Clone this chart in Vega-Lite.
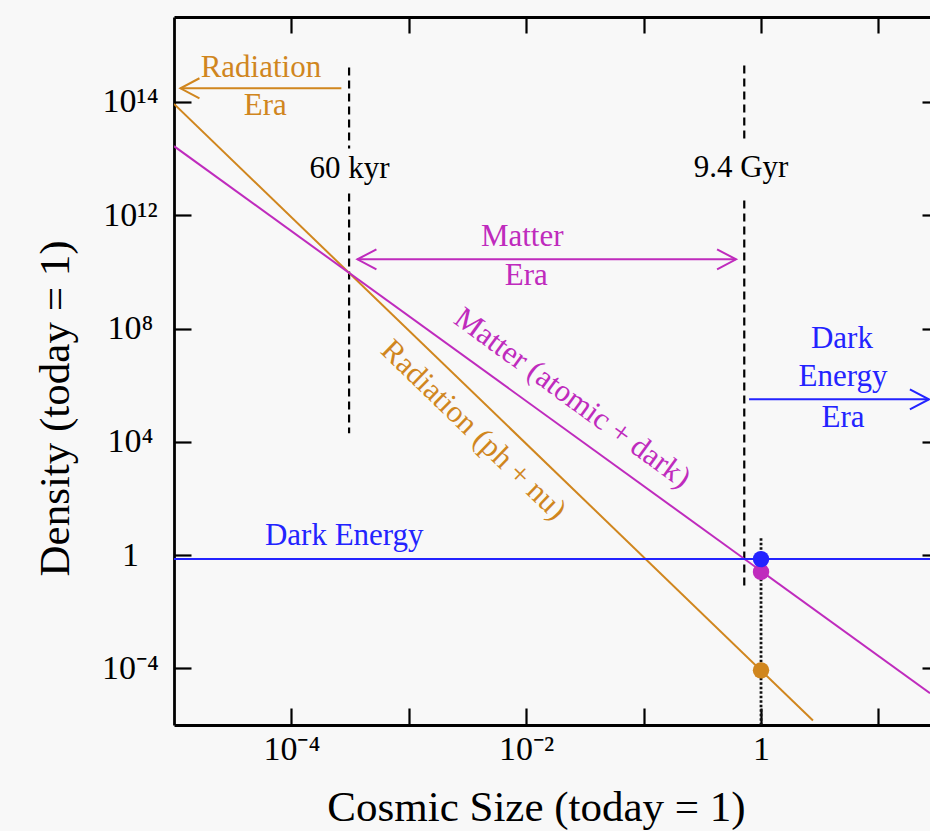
{
  "$schema": "https://vega.github.io/schema/vega-lite/v6.json",
  "width": 756,
  "height": 708,
  "autosize": {"type": "none"},
  "padding": {"left": 174, "top": 17, "right": 0, "bottom": 106},
  "background": "#f8f8f8",
  "config": {
    "view": {"stroke": null},
    "font": "Liberation Serif",
    "text": {"font": "Liberation Serif"}
  },
  "datasets": {
    "curves": [
      {"c": "Radiation", "a": 1e-5, "rho": 8.5e15},
      {"c": "Radiation", "a": 2.77, "rho": 1.44e-6},
      {"c": "Matter", "a": 1e-5, "rho": 2.75e14},
      {"c": "Matter", "a": 27.5, "rho": 1.32e-5},
      {"c": "Dark Energy", "a": 1e-5, "rho": 0.72},
      {"c": "Dark Energy", "a": 27.5, "rho": 0.72}
    ],
    "markers": [
      {"kind": "dash", "a": 3.1e-4, "rho": 1.66e17, "rho2": 2.29e14},
      {"kind": "dash", "a": 3.1e-4, "rho": 5.89e12, "rho2": 2.0e4},
      {"kind": "dash", "a": 0.72, "rho": 1.95e17, "rho2": 4.47e14},
      {"kind": "dash", "a": 0.72, "rho": 3.31e12, "rho2": 0.0562}
    ],
    "today": [
      {"kind": "dot", "a": 1, "rho": 3.9, "rho2": 1e-6}
    ],
    "shafts": [
      {"c": "Radiation", "a": 2.665e-4, "a2": 1.135e-5, "rho": 3.03e16},
      {"c": "Matter", "a": 3.65e-4, "a2": 0.613, "rho": 2.77e10},
      {"c": "Dark Energy", "a": 0.791, "a2": 26.9, "rho": 3.155e5}
    ],
    "heads": [
      {"c": "Radiation", "dir": "left", "a": 1.135e-5, "rho": 3.03e16},
      {"c": "Matter", "dir": "left", "a": 3.65e-4, "rho": 2.77e10},
      {"c": "Matter", "dir": "right", "a": 0.613, "rho": 2.77e10},
      {"c": "Dark Energy", "dir": "right", "a": 26.9, "rho": 3.155e5}
    ],
    "labels": [
      {"c": "Radiation", "a": 5.5e-5, "rho": 7.4e16, "t": "Radiation"},
      {"c": "Radiation", "a": 6.0e-5, "rho": 3.39e15, "t": "Era"},
      {"c": "Black", "a": 3.12e-4, "rho": 2.0e13, "t": "60 kyr"},
      {"c": "Black", "a": 0.676, "rho": 2.19e13, "t": "9.4 Gyr"},
      {"c": "Matter", "a": 9.25e-3, "rho": 8.5e10, "t": "Matter"},
      {"c": "Matter", "a": 1.0e-2, "rho": 3.39e9, "t": "Era"},
      {"c": "Dark Energy", "a": 2.82e-4, "rho": 2.2, "t": "Dark Energy"},
      {"c": "Dark Energy", "a": 4.89, "rho": 2.0e7, "t": "Dark"},
      {"c": "Dark Energy", "a": 4.99, "rho": 9.1e5, "t": "Energy"},
      {"c": "Dark Energy", "a": 4.99, "rho": 3.24e4, "t": "Era"}
    ],
    "matterLabel": [
      {"c": "Matter", "a": 0.0246, "rho": 3.42e5, "t": "Matter (atomic + dark)"}
    ],
    "radLabel": [
      {"c": "Radiation", "a": 3.54e-3, "rho": 2.54e4, "t": "Radiation (ph + nu)"}
    ],
    "dots": [
      {"c": "Radiation", "a": 1, "rho": 8.5e-5},
      {"c": "Matter", "a": 1, "rho": 0.255},
      {"c": "Dark Energy", "a": 1, "rho": 0.72}
    ]
  },
  "encoding": {
    "x": {"field": "a", "type": "quantitative", "scale": {"type": "log", "domain": [1e-5, 27.5], "nice": false}, "axis": null},
    "y": {"field": "rho", "type": "quantitative", "scale": {"type": "log", "domain": [1e-6, 1e19], "nice": false}, "axis": null},
    "color": {
      "field": "c", "type": "nominal", "legend": null,
      "scale": {"domain": ["Radiation", "Matter", "Dark Energy", "Black"], "range": ["#d0861e", "#bf2bbd", "#2323ff", "#000000"]}
    }
  },
  "layer": [
    {
      "data": {"name": "markers"},
      "mark": {"type": "rule", "strokeWidth": 2.2, "strokeDash": [8, 5]},
      "encoding": {
        "y2": {"field": "rho2"},
        "color": {"value": "#000000"}
      }
    },
    {
      "data": {"name": "today"},
      "mark": {"type": "rule", "strokeWidth": 2.8, "strokeDash": [2.5, 2]},
      "encoding": {
        "y2": {"field": "rho2"},
        "color": {"value": "#111111"}
      }
    },
    {
      "data": {"name": "curves"},
      "mark": {"type": "line", "strokeWidth": 2, "clip": true},
      "encoding": {
        "detail": {"field": "c", "type": "nominal"},
        "x": {
          "field": "a", "type": "quantitative",
          "scale": {"type": "log", "domain": [1e-5, 27.5], "nice": false},
          "axis": {
            "orient": "bottom",
            "values": [1e-4, 1e-3, 1e-2, 1e-1, 1, 10],
            "labelExpr": "datum.value < 2e-4 ? '10⁻⁴' : (datum.value > 5e-3 && datum.value < 2e-2) ? '10⁻²' : (datum.value > 0.5 && datum.value < 2) ? '1' : ''",
            "grid": false,
            "domain": true, "domainColor": "#000000", "domainWidth": 2.8,
            "ticks": true, "tickColor": "#000000", "tickWidth": 2.2, "tickSize": -17,
            "labelPadding": 24, "labelFontSize": 34, "labelFont": "Liberation Serif", "labelColor": "#000000",
            "labelFlush": false, "labelOverlap": false, "labelAlign": "center", "labelBaseline": "top",
            "title": "Cosmic Size (today = 1)", "titleFont": "Liberation Serif", "titleFontSize": 43, "titleFontWeight": "normal", "titleColor": "#000000",
            "titleX": 362, "titleY": 95, "titleBaseline": "alphabetic", "titleAlign": "center"
          }
        },
        "y": {
          "field": "rho", "type": "quantitative",
          "scale": {"type": "log", "domain": [1e-6, 1e19], "nice": false},
          "axis": {
            "orient": "left",
            "values": [1e16, 1e12, 1e8, 1e4, 1, 1e-4],
            "labelExpr": "datum.value > 1e15 ? '10¹⁴' : datum.value > 1e11 ? '10¹²' : datum.value > 1e7 ? '10⁸' : datum.value > 1e3 ? '10⁴' : datum.value > 0.5 ? '1' : '10⁻⁴'",
            "grid": false,
            "domain": true, "domainColor": "#000000", "domainWidth": 2.8,
            "ticks": true, "tickColor": "#000000", "tickWidth": 2.2, "tickSize": -17,
            "labelPadding": 61, "labelFontSize": 34, "labelFont": "Liberation Serif", "labelColor": "#000000",
            "labelFlush": false, "labelOverlap": false, "labelAlign": "center", "labelBaseline": "middle",
            "title": "Density (today = 1)", "titleFont": "Liberation Serif", "titleFontSize": 43, "titleFontWeight": "normal", "titleColor": "#000000",
            "titleX": -106, "titleY": 391, "titleAngle": -90, "titleBaseline": "alphabetic", "titleAlign": "center"
          }
        }
      }
    },
    {
      "data": {"name": "shafts"},
      "mark": {"type": "rule", "strokeWidth": 2},
      "encoding": {
        "x2": {"field": "a2"}
      }
    },
    {
      "data": {"name": "heads"},
      "mark": {"type": "point", "filled": false, "size": 1444, "strokeWidth": 2, "opacity": 1},
      "encoding": {
        "shape": {"field": "dir", "type": "nominal", "legend": null, "scale": {"domain": ["left", "right"], "range": ["M1,-0.53L0,0L1,0.53", "M-1,-0.53L0,0L-1,0.53"]}}
      }
    },
    {
      "data": {"name": "labels"},
      "mark": {"type": "text", "fontSize": 31, "align": "center", "baseline": "alphabetic", "font": "Liberation Serif"},
      "encoding": {"text": {"field": "t"}}
    },
    {
      "data": {"name": "matterLabel"},
      "mark": {"type": "text", "fontSize": 31, "align": "center", "baseline": "middle", "angle": 36, "font": "Liberation Serif"},
      "encoding": {"text": {"field": "t"}}
    },
    {
      "data": {"name": "radLabel"},
      "mark": {"type": "text", "fontSize": 31, "align": "center", "baseline": "middle", "angle": 44, "font": "Liberation Serif"},
      "encoding": {"text": {"field": "t"}}
    },
    {
      "data": {"name": "dots"},
      "mark": {"type": "circle", "size": 270, "opacity": 1},
      "encoding": {
        "x": {
          "field": "a", "type": "quantitative",
          "scale": {"type": "log", "domain": [1e-5, 27.5], "nice": false},
          "axis": {
            "orient": "top",
            "values": [1e-4, 1e-3, 1e-2, 1e-1, 1, 10],
            "labels": false, "grid": false, "title": null,
            "domain": true, "domainColor": "#000000", "domainWidth": 2.8,
            "ticks": true, "tickColor": "#000000", "tickWidth": 2.2, "tickSize": -16
          }
        },
        "y": {
          "field": "rho", "type": "quantitative",
          "scale": {"type": "log", "domain": [1e-6, 1e19], "nice": false},
          "axis": {
            "orient": "right",
            "values": [1e16, 1e12, 1e8, 1e4, 1, 1e-4],
            "labels": false, "grid": false, "title": null,
            "domain": false,
            "ticks": true, "tickColor": "#000000", "tickWidth": 2.2, "tickSize": -8
          }
        }
      }
    }
  ],
  "resolve": {"axis": {"x": "independent", "y": "independent"}}
}
